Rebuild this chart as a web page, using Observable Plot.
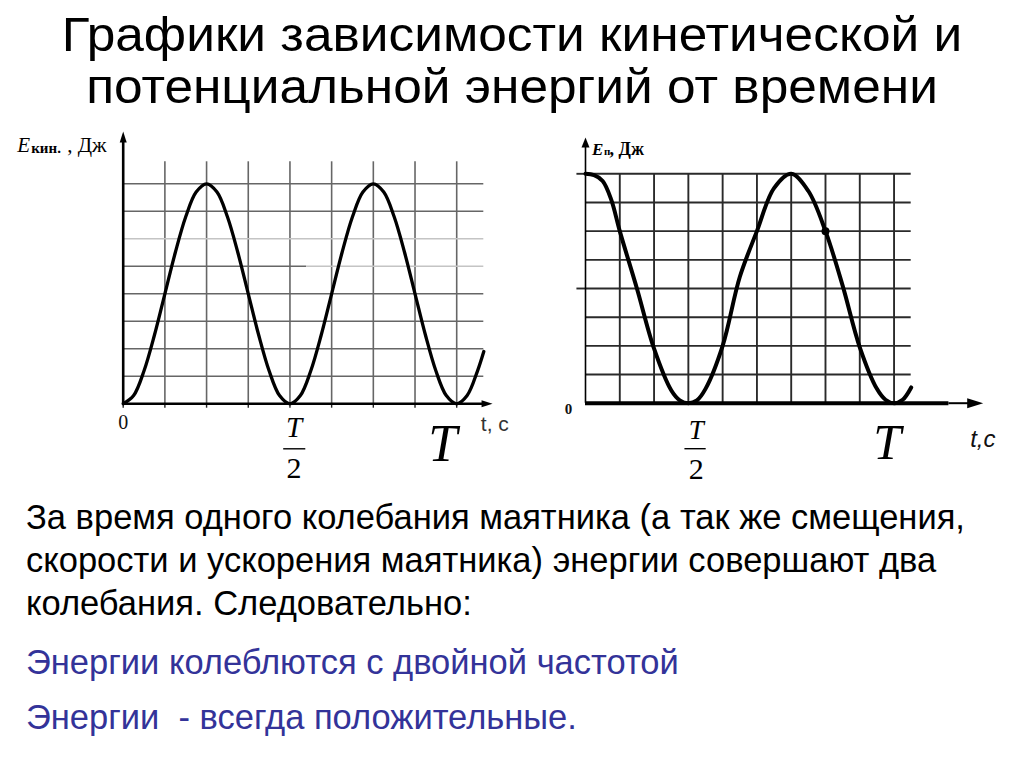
<!DOCTYPE html>
<html><head><meta charset="utf-8">
<script src="https://cdn.jsdelivr.net/npm/d3@7"></script>
<script src="https://cdn.jsdelivr.net/npm/@observablehq/plot@0.6"></script>
<style>
html,body{margin:0;padding:0;background:#fff;}
#page{position:relative;width:1024px;height:767px;overflow:hidden;background:#fff;font-family:"Liberation Sans",Arial,sans-serif;}
.title{position:absolute;left:0;width:1024px;text-align:center;font-size:46.4px;line-height:52px;color:#000;white-space:nowrap;transform:scale(1.108,1.05);transform-origin:50% 75%;}
.txt{position:absolute;left:26px;font-size:34.5px;line-height:43px;white-space:nowrap;color:#000;}
.blue{color:#333399;}
#kin{position:absolute;left:0;top:120px;}
#pot{position:absolute;left:520px;top:120px;}
</style></head><body>
<div id="page">
  <div class="title" style="top:9px">Графики зависимости кинетической и</div>
  <div class="title" style="top:61px">потенциальной энергий от времени</div>
  <div class="txt" style="top:496px">За время одного колебания маятника (а так же смещения,<br>скорости и ускорения маятника) энергии совершают два<br>колебания. Следовательно:</div>
  <div class="txt blue" style="top:641px">Энергии колеблются с двойной частотой</div>
  <div class="txt blue" style="top:696px">Энергии&nbsp; - всегда положительные.</div>
  <div id="kin"></div>
  <div id="pot"></div>
</div>
<script>
// ---------- data: kinetic energy (grid cells; T = 8 cells) ----------
const kinT = [0,0.25,0.5,0.75,1,1.25,1.5,1.75,2,2.25,2.5,2.75,3,3.25,3.5,3.75,4,
              4.25,4.5,4.75,5,5.25,5.5,5.75,6,6.25,6.5,6.75,7,7.25,7.5,7.75,8,8.25,8.5,8.65];
const kinE = [0,0.3,1.2,2.5,4,5.5,6.8,7.7,8,7.7,6.8,5.5,4,2.5,1.2,0.3,0,
              0.3,1.2,2.5,4,5.5,6.8,7.7,8,7.7,6.8,5.5,4,2.5,1.2,0.3,0,0.3,1.2,1.9];
const kinGridX = [1,2,3,4,5,6,7,8];
const kinTickX = [0,1,2,3,4,5,6,7,8];
const kinGridY = [1,2,3,4,7,8];
const kinFaintY = [6];
const kinMixedY = [5];
const kinMixedSplit = 4.4;
const kinXEnd = 8.65, kinGridTop = 8.8, kinAxisX = 8.86, kinAxisY = 9.9;
const kinHalf = 4, kinFull = 8;

// ---------- data: potential energy (grid cells; T = 9 cells) ----------
const potT = [0,0.25,0.5,0.75,1,1.5,2,2.5,2.75,3,3.25,3.5,4,4.5,5,5.5,6,6.5,7,7.5,8,8.5,8.75,9,9.25,9.5];
const potE = [8,7.95,7.75,7.1,6.0,4.0,1.9,0.45,0.1,0,0.1,0.5,2.0,4.4,6.0,7.5,8,7.4,6.0,4.1,1.95,0.5,0.12,0,0.12,0.55];
const potGridX = [1,2,3,4,5,6,7,8,9];
const potGridY = [1,2,3,4,5,6,7,8];
const potLeftTicks = [4,8];
const potDot = [{t:7, e:6}];
const potXEnd = 9.5, potAxisThick = 10.6, potAxisX = 11.6, potAxisY = 9.27;
const potHalf = 3, potFull = 9;

const serif = "'Liberation Serif','Times New Roman',serif";
const sans = "'Liberation Sans',Arial,sans-serif";

function head(w, h){
  return {draw(c){ c.moveTo(0,0); c.lineTo(w/2,h); c.lineTo(-w/2,h); c.closePath(); }};
}

const kinData = kinT.map((t,i)=>({t, e:kinE[i]}));
const potData = potT.map((t,i)=>({t, e:potE[i]}));

const kin = Plot.plot({
  width: 520, height: 370,
  marginLeft: 122.7, marginRight: 36.7, marginTop: 63.3, marginBottom: 86.7,
  x: {domain: [0, kinXEnd], axis: null},
  y: {domain: [0, 8], axis: null},
  style: {overflow: "visible", background: "transparent"},
  marks: [
    Plot.ruleX(kinGridX, {y1: 0, y2: kinGridTop, stroke: "#666", strokeWidth: 1.6}),
    Plot.ruleY(kinGridY, {x1: 0, x2: kinXEnd, stroke: "#666", strokeWidth: 1.6}),
    Plot.ruleY(kinFaintY, {x1: 0, x2: kinXEnd, stroke: "#c4c4c4", strokeWidth: 1.6}),
    Plot.ruleY(kinMixedY, {x1: 0, x2: kinMixedSplit, stroke: "#666", strokeWidth: 1.6}),
    Plot.ruleY(kinMixedY, {x1: kinMixedSplit, x2: kinXEnd, stroke: "#c4c4c4", strokeWidth: 1.6}),
    Plot.ruleY([8], {x1: 0, x2: 0, dx: -5, stroke: "#333", strokeWidth: 1.5}),
    Plot.ruleX(kinTickX, {y1: 0, y2: -0.16, stroke: "#222", strokeWidth: 1.4}),
    Plot.line(kinData, {x: "t", y: "e", curve: "catmull-rom", stroke: "#000", strokeWidth: 3.3}),
    Plot.ruleX([0], {y1: 0, y2: kinAxisY - 0.3, stroke: "#000", strokeWidth: 2.6}),
    Plot.ruleY([0], {x1: 0, x2: kinAxisX - 0.15, stroke: "#000", strokeWidth: 2.6}),
    Plot.dot([{x:0, y:kinAxisY}], {x: "x", y: "y", symbol: head(7, 11), r: 5, fill: "#000", stroke: "none"}),
    Plot.dot([{x:kinAxisX, y:0}], {x: "x", y: "y", symbol: head(7, 11), r: 5, rotate: 90, fill: "#000", stroke: "none"}),
    // tick labels
    Plot.text([0], {x: d => d, y: 0, text: ["0"], dy: 25, lineAnchor: "bottom", fontFamily: serif, fontSize: 20, fill: "#111"}),
    Plot.text([kinHalf], {x: d => d, y: 0, text: ["T"], dx: 4, dy: 33.5, lineAnchor: "bottom", fontFamily: serif, fontStyle: "italic", fontSize: 29}),
    Plot.ruleY([0], {x1: kinHalf - 0.15, x2: kinHalf + 0.38, dy: 45, stroke: "#000", strokeWidth: 1.4}),
    Plot.text([kinHalf], {x: d => d, y: 0, text: ["2"], dx: 4, dy: 74.5, lineAnchor: "bottom", fontFamily: serif, fontSize: 30}),
    Plot.text([kinFull], {x: d => d, y: 0, text: ["T"], dx: -14, dy: 57, lineAnchor: "bottom", fontFamily: serif, fontStyle: "italic", fontSize: 52}),
    Plot.text([kinXEnd], {x: d => d, y: 0, text: ["t, c"], dx: -3, dy: 27, textAnchor: "start", lineAnchor: "bottom", fontFamily: sans, fontSize: 21, fill: "#333"}),
    // y label
    Plot.text([0], {x: d => d, y: 0, text: ["E"], dx: -106, dy: -252, textAnchor: "start", lineAnchor: "bottom", fontFamily: serif, fontStyle: "italic", fontSize: 21}),
    Plot.text([0], {x: d => d, y: 0, text: ["кин."], dx: -92, dy: -251, textAnchor: "start", lineAnchor: "bottom", fontFamily: serif, fontWeight: "bold", fontSize: 15}),
    Plot.text([0], {x: d => d, y: 0, text: [", Дж"], dx: -56, dy: -252, textAnchor: "start", lineAnchor: "bottom", fontFamily: serif, fontSize: 21})
  ]
});
document.getElementById("kin").appendChild(kin);

const pot = Plot.plot({
  width: 504, height: 370,
  marginLeft: 65, marginRight: 113.3, marginTop: 53.3, marginBottom: 87.3,
  x: {domain: [0, potXEnd], axis: null},
  y: {domain: [0, 8], axis: null},
  style: {overflow: "visible", background: "transparent"},
  marks: [
    Plot.ruleX(potGridX, {y1: 0, y2: 8, stroke: "#2a2a2a", strokeWidth: 1.9}),
    Plot.ruleY(potGridY, {x1: 0, x2: potXEnd, stroke: "#2a2a2a", strokeWidth: 1.9}),
    Plot.ruleY(potLeftTicks, {x1: -0.25, x2: 0, stroke: "#2a2a2a", strokeWidth: 1.9}),
    Plot.line(potData, {x: "t", y: "e", curve: "catmull-rom", stroke: "#000", strokeWidth: 4}),
    Plot.dot(potDot, {x: "t", y: "e", r: 4, fill: "#000", stroke: "none"}),
    Plot.ruleX([0], {y1: 0, y2: potAxisY - 0.3, stroke: "#000", strokeWidth: 1.6}),
    Plot.ruleY([0], {x1: 0, x2: potAxisThick, stroke: "#000", strokeWidth: 4}),
    Plot.ruleY([0], {x1: potAxisThick, x2: potAxisX - 0.3, stroke: "#000", strokeWidth: 2}),
    Plot.dot([{x:0, y:potAxisY}], {x: "x", y: "y", symbol: head(8, 10), r: 5, fill: "#000", stroke: "none"}),
    Plot.dot([{x:potAxisX, y:0}], {x: "x", y: "y", symbol: head(10, 16), r: 5, rotate: 90, fill: "#000", stroke: "none"}),
    // tick labels
    Plot.text([0], {x: d => d, y: 0, text: ["0"], dx: -17, dy: 11, lineAnchor: "bottom", fontFamily: serif, fontWeight: "bold", fontSize: 15, fill: "#111"}),
    Plot.text([potHalf], {x: d => d, y: 0, text: ["T"], dx: 8, dy: 35.5, lineAnchor: "bottom", fontFamily: serif, fontStyle: "italic", fontSize: 27}),
    Plot.ruleY([0], {x1: potHalf - 0.1, x2: potHalf + 0.52, dy: 45.5, stroke: "#000", strokeWidth: 1.4}),
    Plot.text([potHalf], {x: d => d, y: 0, text: ["2"], dx: 8, dy: 75.5, lineAnchor: "bottom", fontFamily: serif, fontSize: 30}),
    Plot.text([potFull], {x: d => d, y: 0, text: ["T"], dx: -7, dy: 55.5, lineAnchor: "bottom", fontFamily: serif, fontStyle: "italic", fontSize: 50}),
    Plot.text([potAxisX], {x: d => d, y: 0, text: ["t,c"], dx: -13, dy: 44, textAnchor: "start", lineAnchor: "bottom", fontFamily: sans, fontStyle: "italic", fontSize: 24, fill: "#111"}),
    // y label
    Plot.text([0], {x: d => d, y: 0, text: ["E"], dx: 6.5, dy: -248.5, textAnchor: "start", lineAnchor: "bottom", fontFamily: serif, fontStyle: "italic", fontWeight: "bold", fontSize: 17}),
    Plot.text([0], {x: d => d, y: 0, text: ["п"], dx: 18.5, dy: -248, textAnchor: "start", lineAnchor: "bottom", fontFamily: serif, fontWeight: "bold", fontSize: 11}),
    Plot.text([0], {x: d => d, y: 0, text: [", Дж"], dx: 24, dy: -248.5, textAnchor: "start", lineAnchor: "bottom", fontFamily: serif, fontWeight: "bold", fontSize: 18})
  ]
});
document.getElementById("pot").appendChild(pot);
</script>
</body></html>
